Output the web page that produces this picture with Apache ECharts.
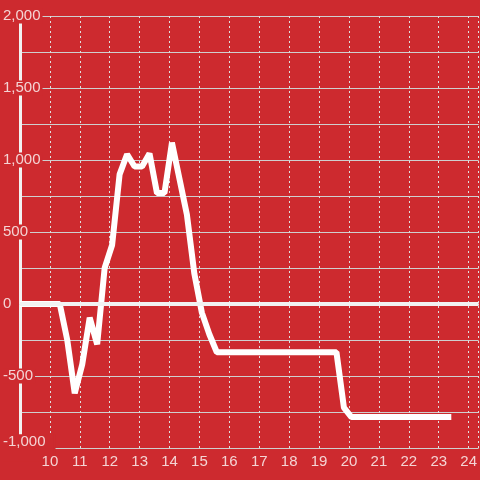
<!DOCTYPE html>
<html>
<head>
<meta charset="utf-8">
<script src="https://cdn.jsdelivr.net/npm/echarts@6/dist/echarts.min.js"></script>
<style>
  html, body { margin: 0; padding: 0; background: #cd2a2f; }
  #chart { width: 480px; height: 480px; }
</style>
</head>
<body>
<div id="chart"></div>
<script>
// hour of day (x) and value (y)
var hours = [9, 10.33, 10.58, 10.83, 11.08, 11.33, 11.58, 11.83, 12.08, 12.33, 12.58, 12.83,
    13.08, 13.33, 13.58, 13.83, 14.08, 14.33, 14.58, 14.83, 15.08, 15.33, 15.58,
    19.58, 19.83, 20.08, 23.42];
var values = [0, 0, -250, -620, -420, -95, -280, 250, 410, 900, 1040, 955,
    955, 1045, 770, 770, 1120, 870, 620, 210, -60, -210, -335,
    -335, -720, -785, -785];
var yTicks = [-1000, -500, 0, 500, 1000, 1500, 2000];

var bg = '#cd2a2f';
var labelColor = '#f4d4d4';

var chart = echarts.init(document.getElementById('chart'));
var option = {
    backgroundColor: bg,
    animation: false,
    grid: { left: 20, right: 0, top: 16, bottom: 32 },
    xAxis: {
        type: 'value',
        min: 9,
        max: 24.333,
        interval: 1,
        axisLine: { show: true, lineStyle: { color: '#d8d8d8', width: 1 } },
        axisTick: { show: false },
        axisLabel: {
            color: labelColor,
            fontSize: 15,
            fontFamily: 'Liberation Sans',
            margin: 6,
            showMaxLabel: false,
            formatter: function (v) { return v === 9 ? '' : String(v); }
        },
        splitLine: {
            show: true,
            lineStyle: { color: '#e0e0e0', width: 1, type: [2, 3] }
        }
    },
    yAxis: {
        type: 'value',
        min: yTicks[0],
        max: yTicks[yTicks.length - 1],
        interval: 500,
        axisLine: { show: true, lineStyle: { color: '#f2f2f2', width: 3 } },
        axisTick: { show: false },
        axisLabel: {
            color: labelColor,
            fontSize: 15,
            fontFamily: 'Liberation Sans',
            align: 'left',
            margin: 17,
            backgroundColor: bg,
            padding: [0, 2, 0, 0],
            formatter: function (v) {
                var s = v.toLocaleString('en-US');
                // bottom label sits a little above its line
                return v === yTicks[0] ? '{lo|' + s + '}' : s;
            },
            rich: {
                lo: {
                    color: labelColor,
                    fontSize: 15,
                    fontFamily: 'Liberation Sans',
                    padding: [0, 8, 12, 0],
                    backgroundColor: bg
                }
            }
        },
        splitLine: { show: true, lineStyle: { color: '#cfcfcf', width: 1 } },
        minorTick: { show: false, splitNumber: 2 },
        minorSplitLine: { show: true, lineStyle: { color: '#cfcfcf', width: 1 } }
    },
    series: [{
        type: 'line',
        data: hours.map(function (h, i) { return [h, values[i]]; }),
        showSymbol: false,
        symbol: 'none',
        lineStyle: { color: '#ffffff', width: 6 },
        markLine: {
            silent: true,
            symbol: 'none',
            label: { show: false },
            lineStyle: { color: '#f2f2f2', width: 4, type: 'solid' },
            data: [{ yAxis: 0 }]
        }
    }]
};
chart.setOption(option);
</script>
</body>
</html>
